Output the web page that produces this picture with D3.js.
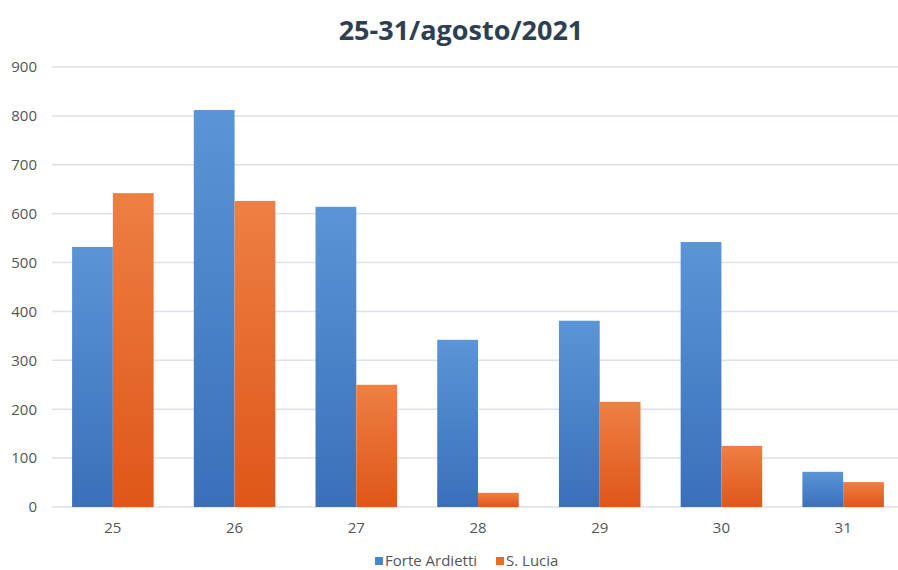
<!DOCTYPE html>
<html>
<head>
<meta charset="utf-8">
<script src="https://cdn.jsdelivr.net/npm/d3@7"></script>
<style>
  html, body { margin: 0; padding: 0; background: #ffffff; }
  svg { display: block; }
</style>
</head>
<body>
<svg id="chart" width="898" height="570"></svg>
<script>
// Daily counts for the last week of August 2021
const days = ["25", "26", "27", "28", "29", "30", "31"];
const seriesNames = ["Forte Ardietti", "S. Lucia"];
const forteArdietti = [532, 812, 614, 342, 381, 542, 72];
const sLucia = [642, 626, 250, 29, 215, 125, 51];
const yTicks = [0, 100, 200, 300, 400, 500, 600, 700, 800, 900];
const titleText = "25-31/agosto/2021";

const rows = days.map((d, i) => ({ day: d, values: [forteArdietti[i], sLucia[i]] }));

const W = 898, H = 570;
const margin = { top: 67, right: -6, bottom: 63, left: 52 };
const innerW = W - margin.left - margin.right;
const innerH = H - margin.top - margin.bottom;

const svg = d3.select("#chart");

// Vertical gradients give the bars their shaded look
const defs = svg.append("defs");
const gradients = [
  { id: "gBlue", top: "#5a95d6", bottom: "#3a70bb" },
  { id: "gOrange", top: "#ee7f42", bottom: "#df561a" }
];
gradients.forEach(g => {
  const lg = defs.append("linearGradient")
    .attr("id", g.id).attr("x1", 0).attr("y1", 0).attr("x2", 0).attr("y2", 1);
  lg.append("stop").attr("offset", "0%").attr("stop-color", g.top);
  lg.append("stop").attr("offset", "100%").attr("stop-color", g.bottom);
});
const fills = ["url(#gBlue)", "url(#gOrange)"];
const legendColors = ["#4a86cf", "#ec6a28"];

const g = svg.append("g").attr("transform", `translate(${margin.left},${margin.top})`);

const x0 = d3.scaleBand().domain(days).range([0, innerW]).paddingInner(0.33).paddingOuter(0.165);
const x1 = d3.scaleBand().domain([0, 1]).range([0, x0.bandwidth()]);
const y = d3.scaleLinear().domain([0, 900]).range([innerH, 0]);

// Horizontal gridlines
g.append("g")
  .selectAll("line")
  .data(yTicks)
  .join("line")
  .attr("x1", 0).attr("x2", innerW)
  .attr("y1", d => y(d)).attr("y2", d => y(d))
  .attr("stroke", "#dde1e7")
  .attr("stroke-width", 1.5);

// Y axis labels
const yAxis = d3.axisLeft(y).tickValues(yTicks).tickSize(0).tickPadding(15);
g.append("g").call(yAxis)
  .call(s => s.select(".domain").remove())
  .selectAll("text")
  .attr("fill", "#555555")
  .attr("font-family", "'Open Sans', sans-serif")
  .attr("font-size", 15);

// Bars
g.append("g")
  .selectAll("g")
  .data(rows)
  .join("g")
  .attr("transform", d => `translate(${x0(d.day)},0)`)
  .selectAll("rect")
  .data(d => d.values.map((v, i) => ({ v, i })))
  .join("rect")
  .attr("x", d => x1(d.i))
  .attr("width", x1.bandwidth())
  .attr("y", d => y(d.v))
  .attr("height", d => innerH - y(d.v))
  .attr("fill", d => fills[d.i]);

// X axis labels
const xAxis = d3.axisBottom(x0).tickSize(0).tickPadding(15);
g.append("g").attr("transform", `translate(0,${innerH})`).call(xAxis)
  .call(s => s.select(".domain").remove())
  .selectAll("text")
  .attr("fill", "#555555")
  .attr("font-family", "'Open Sans', sans-serif")
  .attr("font-size", 15);

// Title
svg.append("text")
  .attr("x", 461).attr("y", 40)
  .attr("text-anchor", "middle")
  .attr("fill", "#2f3f52")
  .attr("font-family", "'Open Sans', sans-serif")
  .attr("font-weight", 700)
  .attr("font-size", 27)
  .text(titleText);

// Legend
const legend = svg.append("g").attr("transform", "translate(375,566)");
const legendX = [0, 121];
seriesNames.forEach((name, i) => {
  legend.append("rect")
    .attr("x", legendX[i]).attr("y", -9)
    .attr("width", 8).attr("height", 8)
    .attr("fill", legendColors[i]);
  legend.append("text")
    .attr("x", legendX[i] + 10).attr("y", 0)
    .attr("fill", "#555555")
    .attr("font-family", "'Open Sans', sans-serif")
    .attr("font-size", 15)
    .text(name);
});
</script>
</body>
</html>
